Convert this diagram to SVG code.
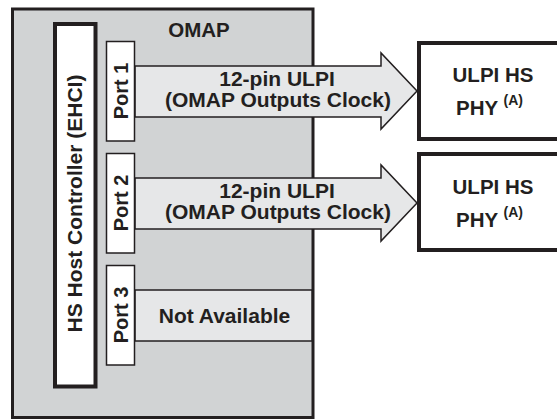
<svg xmlns="http://www.w3.org/2000/svg" width="557" height="419" viewBox="0 0 557 419">
<style>
text{font-family:"Liberation Sans",Arial,sans-serif;font-weight:bold;fill:#231f20;}
.thick{fill:#ffffff;stroke:#231f20;stroke-width:4;}
.port{fill:#ffffff;stroke:#231f20;stroke-width:1.5;}
.band{fill:#e6e7e8;stroke:#231f20;stroke-width:1.5;}
.lbl{font-size:21px;text-anchor:middle;}
.sup{font-size:14px;}
</style>
<rect width="557" height="419" fill="#ffffff"/>
<g id="omap">
<rect x="12.5" y="9" width="300.5" height="408.5" fill="#d1d3d4" stroke="#231f20" stroke-width="3"/>
<text x="199" y="36.7" font-size="20.5" text-anchor="middle">OMAP</text>
</g>
<g id="connectors">
<polygon class="band" points="135,66 381,66 381,53 417,91 381,129 381,117 135,117"/>
<polygon class="band" points="135,178 381,178 381,165 417,203 381,241 381,229 135,229"/>
<rect class="band" x="135" y="290" width="177" height="51"/>
<text class="lbl" x="277" y="85.7">12-pin ULPI</text>
<text class="lbl" x="278" y="106.7">(OMAP Outputs Clock)</text>
<text class="lbl" x="277" y="197.7">12-pin ULPI</text>
<text class="lbl" x="278" y="218.7">(OMAP Outputs Clock)</text>
<text class="lbl" x="224.5" y="323">Not Available</text>
</g>
<g id="host">
<rect class="thick" x="55" y="24" width="40.5" height="362.5"/>
<text class="lbl" transform="translate(81.5,203.5) rotate(-90)">HS Host Controller (EHCI)</text>
</g>
<g id="port1">
<rect class="port" x="106.5" y="41.5" width="28" height="99.5"/>
<text transform="translate(128.3,91) rotate(-90)" font-size="20" text-anchor="middle">Port 1</text>
</g>
<g id="port2">
<rect class="port" x="106.5" y="153.5" width="28" height="99.5"/>
<text transform="translate(128.3,203) rotate(-90)" font-size="20" text-anchor="middle">Port 2</text>
</g>
<g id="port3">
<rect class="port" x="106.5" y="265.5" width="28" height="99.5"/>
<text transform="translate(128.3,315) rotate(-90)" font-size="20" text-anchor="middle">Port 3</text>
</g>
<g id="phy1">
<rect class="thick" x="419" y="43" width="145" height="96"/>
<text x="493" y="82" font-size="20.5" text-anchor="middle">ULPI HS</text>
<text x="456" y="114.5" font-size="20.5">PHY <tspan class="sup" dy="-10">(A)</tspan></text>
</g>
<g id="phy2">
<rect class="thick" x="419" y="154" width="145" height="96"/>
<text x="493" y="194" font-size="20.5" text-anchor="middle">ULPI HS</text>
<text x="456" y="226.5" font-size="20.5">PHY <tspan class="sup" dy="-10">(A)</tspan></text>
</g>
</svg>
